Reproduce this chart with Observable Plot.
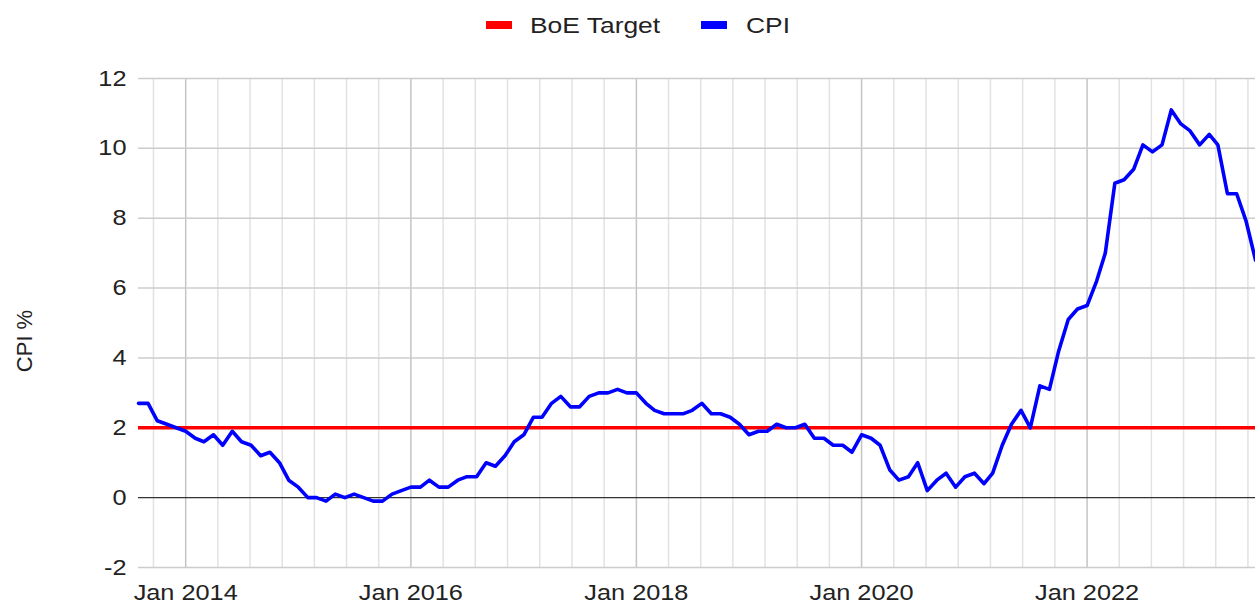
<!DOCTYPE html>
<html><head><meta charset="utf-8">
<script src="https://cdn.jsdelivr.net/npm/d3@7"></script>
<script src="https://cdn.jsdelivr.net/npm/@observablehq/plot@0.6"></script>
<style>
body{margin:0;background:#fff;font-family:"Liberation Sans",Arial,sans-serif;}
#legend{position:relative;width:1255px;height:50px;}
.sw{position:absolute;top:21px;width:26px;height:8px;}
.lt{position:absolute;top:15px;font-size:22px;line-height:22px;color:#222;transform:scaleX(1.2);transform-origin:left center;white-space:nowrap;}
</style></head><body>
<div id="legend"></div>
<div id="chart"></div>
<script>
// Data
const startMonth = "2013-08-01";
const cpi = [
  2.7,2.7,2.2,2.1,2.0,
  1.9,1.7,1.6,1.8,1.5,1.9,1.6,1.5,1.2,1.3,1.0,0.5,
  0.3,0.0,0.0,-0.1,0.1,0.0,0.1,0.0,-0.1,-0.1,0.1,0.2,
  0.3,0.3,0.5,0.3,0.3,0.5,0.6,0.6,1.0,0.9,1.2,1.6,
  1.8,2.3,2.3,2.7,2.9,2.6,2.6,2.9,3.0,3.0,3.1,3.0,
  3.0,2.7,2.5,2.4,2.4,2.4,2.5,2.7,2.4,2.4,2.3,2.1,
  1.8,1.9,1.9,2.1,2.0,2.0,2.1,1.7,1.7,1.5,1.5,1.3,
  1.8,1.7,1.5,0.8,0.5,0.6,1.0,0.2,0.5,0.7,0.3,0.6,
  0.7,0.4,0.7,1.5,2.1,2.5,2.0,3.2,3.1,4.2,5.1,5.4,
  5.5,6.2,7.0,9.0,9.1,9.4,10.1,9.9,10.1,11.1,10.7,10.5,
  10.1,10.4,10.1,8.7,8.7,7.9,6.8
];
const boeTarget = 2;
const seriesNames = ["BoE Target", "CPI"];
const yTicks = [-2,0,2,4,6,8,10,12];
const xTickYears = [2014,2016,2018,2020,2022];
const yLabel = "CPI %";

// Build table
const start = new Date(startMonth + "T00:00:00Z");
const data = cpi.map((v,i) => ({date: d3.utcMonth.offset(start, i), cpi: v}));
const xDomain = [data[0].date, data[data.length-1].date];

// Grid positions
const major = xTickYears.map(y => new Date(Date.UTC(y,0,1)));
const minor = [];
for (let y = 2012; y <= 2022; y += 2) {
  const t0 = Date.UTC(y,0,1), t1 = Date.UTC(y+2,0,1);
  for (let k = 1; k < 7; k++) minor.push(new Date(t0 + k*(t1-t0)/7));
}
const minorIn = minor.filter(d => d >= xDomain[0] && d <= xDomain[1]);

// Legend
const colors = {"BoE Target":"#ff0000","CPI":"#0000ff"};
const legend = document.getElementById("legend");
const legPos = [[486,530],[701,746]];
seriesNames.forEach((n,i) => {
  const sw = document.createElement("div");
  sw.className = "sw"; sw.style.left = legPos[i][0]+"px"; sw.style.background = colors[n];
  const t = document.createElement("div");
  t.className = "lt"; t.style.left = legPos[i][1]+"px"; t.textContent = n;
  legend.append(sw, t);
});

const plot = Plot.plot({
  width: 1255, height: 553,
  marginTop: 28, marginBottom: 36, marginLeft: 138, marginRight: 0,
  style: {fontFamily: "Liberation Sans, Arial, sans-serif", fontSize: "22px", color: "#222", background: "#fff", overflow: "visible"},
  x: {type: "utc", domain: xDomain},
  y: {domain: [-2, 12]},
  marks: [
    Plot.ruleX(minorIn, {stroke: "#e2e2e2", strokeWidth: 1.5}),
    Plot.ruleX(major, {stroke: "#c4c4c4", strokeWidth: 1.5}),
    Plot.ruleY(yTicks.filter(v => v !== 0), {stroke: "#cccccc", strokeWidth: 1.5}),
    Plot.ruleY([0], {stroke: "#333333", strokeWidth: 1.2}),
    Plot.ruleY([boeTarget], {stroke: colors["BoE Target"], strokeWidth: 3.5}),
    Plot.lineY(data, {x: "date", y: "cpi", stroke: colors["CPI"], strokeWidth: 3.6}),
    Plot.axisY({ticks: yTicks, tickSize: 0, tickPadding: 12, label: null, fill: "#222", tickFormat: d => String(d)}),
    Plot.axisX({ticks: major, tickSize: 0, tickPadding: 17, tickFormat: d3.utcFormat("%b %Y"), label: null, fill: "#222"}),
    Plot.text([yLabel], {frameAnchor: "left", textAnchor: "middle", rotate: -90, dx: -114, dy: 18, fontSize: 22, fill: "#222"})
  ]
});
document.getElementById("chart").append(plot);

// Horizontal stretch of tick labels to match reference proportions
plot.querySelectorAll('g[aria-label$="tick label"] text').forEach(t => {
  const w = t.getComputedTextLength();
  t.setAttribute("textLength", w * 1.15);
  t.setAttribute("lengthAdjust", "spacingAndGlyphs");
});
</script>
</body></html>
